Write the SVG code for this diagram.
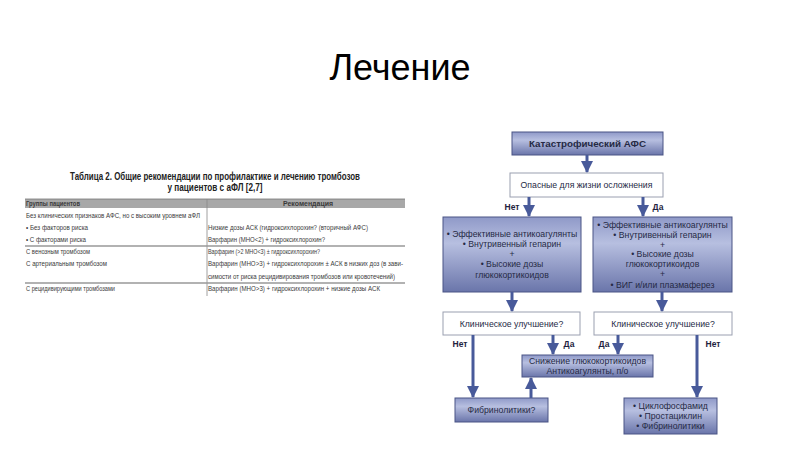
<svg xmlns="http://www.w3.org/2000/svg" width="800" height="450" viewBox="0 0 800 450">
<defs>
<linearGradient id="bg" x1="0" y1="0" x2="0" y2="1">
<stop offset="0" stop-color="#8f99c8"/>
<stop offset="0.35" stop-color="#b7bfe0"/>
<stop offset="1" stop-color="#6a75aa"/>
</linearGradient>
<marker id="ah" markerUnits="userSpaceOnUse" markerWidth="12" markerHeight="12" viewBox="0 0 12 12" refX="11" refY="6" orient="auto">
<path d="M0,0 L12,6 L0,12 Z" fill="#485a9a"/>
</marker>
<style>
.t{font-family:"Liberation Sans",Arial,sans-serif;fill:#262a45;text-anchor:middle}
.fs{font-size:8.7px}
.b{font-weight:bold;font-size:9.8px}
.lab{font-family:"Liberation Sans",Arial,sans-serif;font-size:8.5px;font-weight:bold;fill:#1e2240;text-anchor:middle}
.blue{fill:url(#bg);stroke:#4a5585;stroke-width:1}
.white{fill:#ffffff;stroke:#9a9fb0;stroke-width:1}
.conn line{stroke:#485a9a;stroke-width:3;marker-end:url(#ah)}
.tb{font-family:"Liberation Sans",Arial,sans-serif;font-size:7.5px;fill:#3a3a3a}
.tt{font-family:"Liberation Sans",Arial,sans-serif;font-size:10.5px;font-weight:bold;fill:#222;text-anchor:middle}
</style>
</defs>
<rect width="800" height="450" fill="#ffffff"/>
<text x="400" y="80" font-family="Liberation Sans, Arial, sans-serif" font-size="36" text-anchor="middle" fill="#000">Лечение</text>

<g id="table">
<text class="tt" x="215" y="180" textLength="290" lengthAdjust="spacingAndGlyphs">Таблица 2. Общие рекомендации по профилактике и лечению тромбозов</text>
<text class="tt" x="215" y="191" textLength="95" lengthAdjust="spacingAndGlyphs">у пациентов с аФЛ [2,7]</text>
<rect x="25" y="199" width="380" height="9" fill="#a8a8a8"/>
<line x1="25" y1="199" x2="405" y2="199" stroke="#777" stroke-width="0.8"/>
<line x1="207" y1="199" x2="207" y2="296" stroke="#888" stroke-width="0.8"/>
<line x1="25" y1="246" x2="405" y2="246" stroke="#999" stroke-width="1.5"/>
<line x1="25" y1="283" x2="405" y2="283" stroke="#999" stroke-width="1.5"/>
<text class="tb" x="26" y="206" font-weight="bold" textLength="54" lengthAdjust="spacingAndGlyphs">Группы пациентов</text>
<text class="tb" x="308" y="206" font-weight="bold" text-anchor="middle" textLength="50" lengthAdjust="spacingAndGlyphs">Рекомендация</text>
<text class="tb" x="26" y="218" textLength="174" lengthAdjust="spacingAndGlyphs">Без клинических признаков АФС, но с высоким уровнем аФЛ</text>
<text class="tb" x="26" y="230" textLength="62" lengthAdjust="spacingAndGlyphs">• Без факторов риска</text>
<text class="tb" x="26" y="242" textLength="60" lengthAdjust="spacingAndGlyphs">• С факторами риска</text>
<text class="tb" x="26" y="254" textLength="64" lengthAdjust="spacingAndGlyphs">С венозным тромбозом</text>
<text class="tb" x="26" y="266" textLength="81" lengthAdjust="spacingAndGlyphs">С артериальным тромбозом</text>
<text class="tb" x="26" y="291" textLength="89" lengthAdjust="spacingAndGlyphs">С рецидивирующими тромбозами</text>
<text class="tb" x="208" y="230" textLength="160" lengthAdjust="spacingAndGlyphs">Низкие дозы АСК (гидроксихлорохин? (вторичный АФС)</text>
<text class="tb" x="208" y="242" textLength="117" lengthAdjust="spacingAndGlyphs">Варфарин (МНО&lt;2) + гидроксихлорохин?</text>
<text class="tb" x="208" y="254" textLength="112" lengthAdjust="spacingAndGlyphs">Варфарин (&gt;2 МНО&lt;3) ± гидроксихлорохин?</text>
<text class="tb" x="208" y="266" textLength="195" lengthAdjust="spacingAndGlyphs">Варфарин (МНО&gt;3) + гидроксихлорохин ± АСК в низких доз (в зави-</text>
<text class="tb" x="208" y="279" textLength="187" lengthAdjust="spacingAndGlyphs">симости от риска рецидивирования тромбозов или кровотечений)</text>
<text class="tb" x="208" y="291" textLength="172" lengthAdjust="spacingAndGlyphs">Варфарин (МНО&gt;3) + гидроксихлорохин + низкие дозы АСК</text>
</g>

<g id="n1">
<rect class="blue" x="512" y="132" width="151" height="23"/>
<text class="t b" x="587.5" y="147">Катастрофический АФС</text>
</g>
<g id="n2">
<rect class="white" x="510" y="173" width="153" height="24"/>
<text class="t fs" x="586.5" y="188">Опасные для жизни осложнения</text>
</g>
<g id="n3">
<rect class="blue" x="443" y="217" width="138" height="75"/>
<text class="t fs" x="512" y="237">• Эффективные антикоагулянты</text>
<text class="t fs" x="512" y="247">• Внутривенный гепарин</text>
<text class="t fs" x="512" y="257">+</text>
<text class="t fs" x="512" y="267">• Высокие дозы</text>
<text class="t fs" x="512" y="278">глюкокортикоидов</text>
</g>
<g id="n4">
<rect class="blue" x="593" y="217" width="139" height="75"/>
<text class="t fs" x="662.5" y="228">• Эффективные антикоагулянты</text>
<text class="t fs" x="662.5" y="238">• Внутривенный гепарин</text>
<text class="t fs" x="662.5" y="248">+</text>
<text class="t fs" x="662.5" y="257">• Высокие дозы</text>
<text class="t fs" x="662.5" y="267">глюкокортикоидов</text>
<text class="t fs" x="662.5" y="277">+</text>
<text class="t fs" x="662.5" y="288">• ВИГ и/или плазмаферез</text>
</g>
<g id="n5">
<rect class="white" x="443" y="312" width="137" height="23"/>
<text class="t fs" x="511.5" y="327">Клиническое улучшение?</text>
</g>
<g id="n6">
<rect class="white" x="594" y="312" width="138" height="23"/>
<text class="t fs" x="663" y="327">Клиническое улучшение?</text>
</g>
<g id="n7">
<rect class="blue" x="522" y="355" width="131" height="22"/>
<text class="t fs" x="587.5" y="364">Снижение глюкокортикоидов</text>
<text class="t fs" x="587.5" y="374">Антикоагулянты, п/о</text>
</g>
<g id="n8">
<rect class="blue" x="455" y="398" width="93" height="24"/>
<text class="t fs" x="501.5" y="413">Фибринолитики?</text>
</g>
<g id="n9">
<rect class="blue" x="624" y="398" width="93" height="36"/>
<text class="t fs" x="670.5" y="409">• Циклофосфамид</text>
<text class="t fs" x="670.5" y="419">• Простациклин</text>
<text class="t fs" x="670.5" y="429">• Фибринолитики</text>
</g>

<g id="connectors" class="conn">
<line x1="587" y1="155" x2="587" y2="172"/>
<line x1="529" y1="197" x2="529" y2="216"/>
<line x1="643" y1="197" x2="643" y2="216"/>
<line x1="512" y1="292" x2="512" y2="311"/>
<line x1="662" y1="292" x2="662" y2="311"/>
<line x1="553" y1="335" x2="553" y2="354"/>
<line x1="618" y1="335" x2="618" y2="354"/>
<line x1="473" y1="335" x2="473" y2="397"/>
<line x1="697" y1="335" x2="697" y2="397"/>
<line x1="531" y1="398" x2="531" y2="378"/>
<text class="lab" x="512" y="210">Нет</text>
<text class="lab" x="658" y="210">Да</text>
<text class="lab" x="460" y="347">Нет</text>
<text class="lab" x="569" y="347">Да</text>
<text class="lab" x="604" y="347">Да</text>
<text class="lab" x="713" y="347">Нет</text>
</g>
</svg>
